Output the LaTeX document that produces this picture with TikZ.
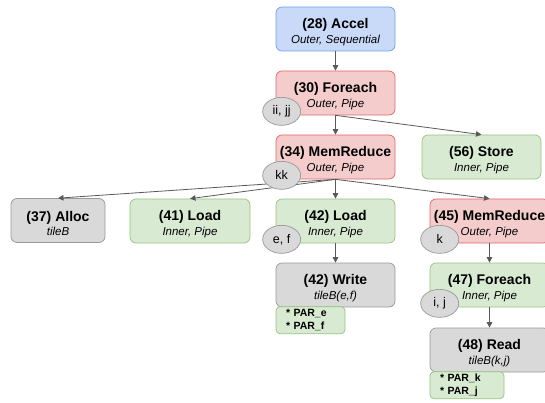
\documentclass[tikz,border=0pt]{standalone}
\usepackage{fontspec}
\setmainfont{Liberation Sans}
\usetikzlibrary{arrows.meta, shapes.geometric}
\definecolor{accelfill}{HTML}{C9DAF8}
\definecolor{accelline}{HTML}{6D9EEB}
\definecolor{outerfill}{HTML}{F4CCCC}
\definecolor{outerline}{HTML}{E06666}
\definecolor{innerfill}{HTML}{D9EAD3}
\definecolor{innerline}{HTML}{93C47D}
\definecolor{memfill}{HTML}{D9D9D9}
\definecolor{memline}{HTML}{999999}
\definecolor{edgegray}{HTML}{595959}
\newcommand{\ctrltext}[2]{\rule{0pt}{16pt}#1\\{\fontsize{11.5}{13}\selectfont\mdseries\itshape #2}}

\begin{document}
\begin{tikzpicture}[x=1pt, y=-1pt,
    ctrl/.style={draw, line width=0.7pt, rounded corners=6pt, minimum width=119pt,
      minimum height=44pt, inner sep=0pt, align=center,
      font=\fontsize{14}{14.5}\selectfont\bfseries},
    accel/.style={ctrl, fill=accelfill, draw=accelline},
    outer/.style={ctrl, fill=outerfill, draw=outerline},
    inner/.style={ctrl, fill=innerfill, draw=innerline},
    mem/.style={ctrl, fill=memfill, draw=memline},
    iter/.style={ellipse, draw=memline, fill=memfill, line width=0.7pt, minimum width=38pt,
      minimum height=28pt, inner sep=0pt, font=\fontsize{12.5}{14}\selectfont},
    par/.style={draw=innerline, fill=innerfill, line width=0.7pt, rounded corners=4pt,
      anchor=north west, inner xsep=10pt, inner ysep=2pt, minimum height=27pt, align=left,
      font=\fontsize{10.5}{12.5}\selectfont\bfseries},
    edge/.style={draw=edgegray, line width=0.8pt, -{Triangle[length=5.5pt, width=5.5pt]}}]

    \useasboundingbox (0,0) rectangle (545,403);
    \clip (0,0) rectangle (545,403);

    % controllers
    \node[accel] (accel) at (335.5,29) {\ctrltext{(28) Accel}{Outer, Sequential}};
    \node[outer] (fe30) at (335.5,93) {\ctrltext{(30) Foreach}{Outer, Pipe}};
    \node[outer] (mr34) at (335.5,157) {\ctrltext{(34) MemReduce}{Outer, Pipe}};
    \node[inner] (st56) at (481.5,157) {\ctrltext{(56) Store}{Inner, Pipe}};

    \node[mem, minimum width=94pt] (al37) at (58,220.5) {\ctrltext{(37) Alloc}{tileB}};
    \node[inner, minimum width=120pt] (ld41) at (190,221) {\ctrltext{(41) Load}{Inner, Pipe}};
    \node[inner] (ld42) at (335.5,221) {\ctrltext{(42) Load}{Inner, Pipe}};
    \node[outer] (mr45) at (489.5,221) {\ctrltext{(45) MemReduce}{Outer, Pipe}};

    \node[mem] (wr42) at (335.5,285) {\ctrltext{(42) Write}{tileB(e,f)}};
    \node[inner] (fe47) at (489.5,285) {\ctrltext{(47) Foreach}{Inner, Pipe}};
    \node[mem] (rd48) at (489.5,350) {\ctrltext{(48) Read}{tileB(k,j)}};

    % edges
    \draw[edge] (accel) -- (fe30);
    \draw[edge] (fe30.south) -- (mr34.north);
    \draw[edge] (fe30.south) -- (st56.north);
    \draw[edge] (mr34.south) -- (al37.north);
    \draw[edge] (mr34.south) -- (ld41.north);
    \draw[edge] (mr34.south) -- (ld42.north);
    \draw[edge] (mr34.south) -- (mr45.north);
    \draw[edge] (ld42.south) -- (wr42.north);
    \draw[edge] (mr45.south) -- (fe47.north);
    \draw[edge] (fe47.south) -- (rd48.north);

    % iterators
    \node[iter] (it30) at ([shift={(6,-4)}]fe30.south west) {ii, jj};
    \node[iter] (it34) at ([shift={(6,-4)}]mr34.south west) {kk};
    \node[iter] (it42) at ([shift={(6,-4)}]ld42.south west) {e, f};
    \node[iter] (it45) at ([shift={(10,-4)}]mr45.south west) {k};
    \node[iter] (it47) at ([shift={(10,-4)}]fe47.south west) {i, j};

    % parallelization
    \node[par, text width=49pt] (par42) at ([yshift=1pt]wr42.south west) {* PAR\_e\\{*} PAR\_f};
    \node[par, text width=54pt] (par48) at ([yshift=1pt]rd48.south west) {* PAR\_k\\{*} PAR\_j};
\end{tikzpicture}
\end{document}
